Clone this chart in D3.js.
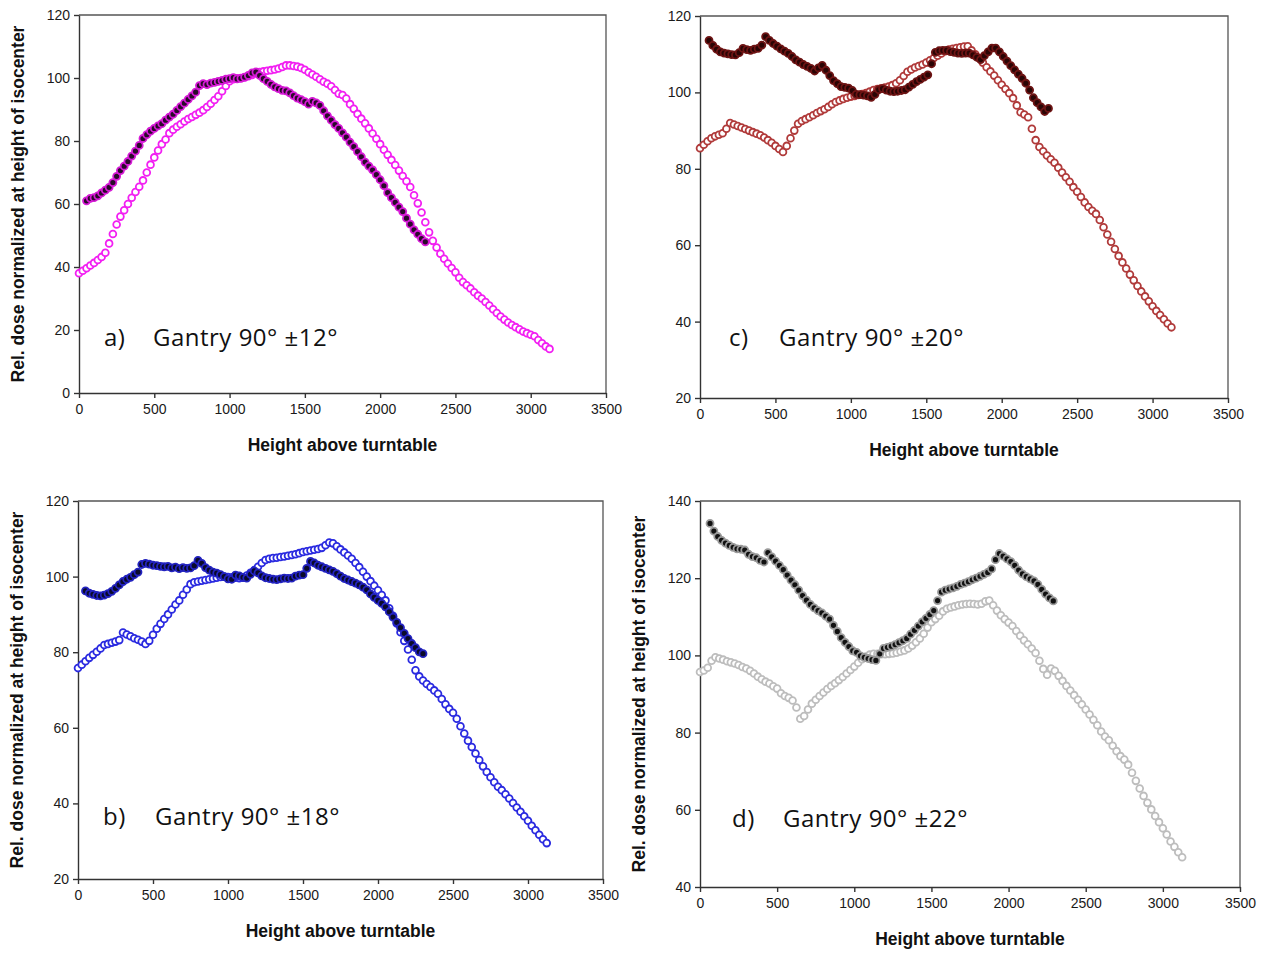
<!DOCTYPE html>
<html>
<head>
<meta charset="utf-8">
<script src="https://cdn.jsdelivr.net/npm/d3@7"></script>
<style>
  body { margin: 0; background: #fff; }
  .tick text { font-family: "Liberation Sans", Arial, sans-serif; font-size: 14px; fill: #1a1a1a; }
  .axis path, .axis line { stroke: #333; stroke-width: 1.4px; }
  .atitle { font-family: "Liberation Sans", Arial, sans-serif; font-weight: bold; font-size: 17.5px; fill: #111; }
  .note { font-family: "Open Sans", Lato, sans-serif; font-size: 24px; letter-spacing: 0.5px; fill: #111; }
</style>
</head>
<body>
<svg id="chart" width="1268" height="953"></svg>
<script>
// Data (heights in mm, dose in %)
const STEP = 25;
const xTicks = [0, 500, 1000, 1500, 2000, 2500, 3000, 3500];
const yTicksA = [0, 20, 40, 60, 80, 100, 120];
const yTicksB = [20, 40, 60, 80, 100, 120];
const yTicksC = [20, 40, 60, 80, 100, 120];
const yTicksD = [40, 60, 80, 100, 120, 140];
const panelLetters = ["a)", "b)", "c)", "d)"];
const panelTitles = ["Gantry 90° \u00b112°", "Gantry 90° \u00b118°", "Gantry 90° \u00b120°", "Gantry 90° \u00b122°"];
const openStart = [0, 0, 0, 0];
const measStart = [50, 50, 60, 65];

// open markers (calculated), first height 0, every 25 mm
const openA = [38,38.8,39.6,40.5,41.3,42.2,43.2,44.5,47.5,50.5,53.5,56,58,60,62,63.8,65.5,67.5,70,72.5,74.8,77,79,80.5,82.5,83.6,84.5,85.3,86.2,87,87.6,88.3,89,89.8,90.8,91.8,93,94.2,95.8,97.5,99,99.6,99.9,100,100.2,100.6,101,101.5,101.9,102.1,102.3,102.5,102.7,103,103.5,104,104,103.8,103.6,103.2,102.6,101.8,101.1,100.4,99.6,98.8,98.2,97.4,96.2,95,94.6,93.5,91.7,90.2,88.6,87.1,85.6,84,82.4,80.7,79,77.2,75.6,74,72.4,70.6,68.9,67.2,65.4,62.8,60.2,57.3,54.2,51,48.3,46.2,44.2,42.6,41.1,39.7,38.3,36.6,35.2,34.2,33.2,32,30.9,30,28.9,27.8,26.6,25.4,24.3,23.3,22.4,21.6,20.9,20.2,19.5,19,18.5,18,16.8,15.8,14.8,14];
const openB = [75.8,76.7,77.6,78.5,79.3,80.1,81,81.9,82.2,82.5,82.8,83.2,85.2,84.7,84.2,83.7,83.3,82.8,82.2,83,84.6,86.2,87.5,88.8,90,91.3,92.6,93.7,95.2,96.6,98,98.5,98.7,98.9,99.1,99.3,99.5,99.7,99.9,100,99.9,99.8,99.7,99.6,99.7,100.3,101,101.7,102.6,103.6,104.4,104.7,104.9,105,105.2,105.3,105.5,105.7,105.9,106.2,106.5,106.7,106.9,107.1,107.3,107.6,108.3,109,108.8,108,107.2,106.4,105.6,104.7,103.6,102.5,101.3,100,98.8,97.6,96.4,95.1,93.7,91.6,89.6,87.6,85.3,83,80.7,78,75.2,73.6,72.5,71.6,70.8,69.9,69,67.6,66.2,65,64,62.4,60.4,58.5,56.6,54.9,53.2,51.5,49.8,48.3,46.9,45.6,44.4,43.5,42.4,41.3,40.1,38.9,37.8,36.6,35.4,34.1,32.9,31.7,30.5,29.5];
const openC = [85.4,86.3,87.2,88,88.5,88.9,89.3,90.5,92,91.6,91.2,90.8,90.4,90,89.6,89.2,88.8,88.2,87.5,86.8,86,85.2,84.4,86,88,90,91.8,92.5,93,93.5,94,94.6,95.1,95.6,96.2,96.9,97.5,97.9,98.3,98.6,98.9,99.1,99.3,99.6,99.8,100.2,100.6,100.9,101.1,101.3,101.5,101.9,102.4,103.2,104.3,105.4,106,106.5,106.9,107.3,107.8,108.4,109,109.6,110.2,110.8,111.2,111.4,111.6,111.8,112,112.1,111,110,109,107.8,106.6,105.5,104.4,103.2,102,100.9,99.8,98.5,96.6,94.8,94.2,93.5,90.5,87.5,85.7,84.6,83.5,82.5,81.6,80.3,79,77.8,76.6,75.2,74,72.6,71.2,70,69,68.2,66.6,64.7,62.8,60.9,59,57.2,55.5,53.9,52.3,50.8,49.3,47.9,46.6,45.3,44,42.8,41.7,40.6,39.5,38.5];
const openD = [95.7,96.1,96.8,98.6,99.5,99.2,98.9,98.5,98.2,97.9,97.5,97,96.6,96,95.3,94.5,93.8,93.2,92.7,92,91.4,90.2,89.5,89,88.3,86.5,83.6,84.3,86,87.5,88.5,89.5,90.4,91.3,92.1,92.8,93.6,94.4,95.3,96.2,97.1,98.1,99,99.7,100.2,100.4,100.4,100.3,100.3,100.4,100.5,100.7,101,101.3,101.8,102.5,103.4,104.4,105.6,107.2,108.6,109.4,110.3,111.4,112.1,112.4,112.7,113,113.2,113.3,113.4,113.3,113.2,113.4,114,114.2,113,111.6,110.4,109.4,108.5,107.6,106.3,105.1,103.9,102.9,101.8,100.6,98.6,96.5,95,96.6,96,94.7,93.4,92.1,90.9,89.7,88.5,87.3,86,84.7,83.3,81.9,80.3,79,78,76.6,75.2,73.9,73,71.7,69.6,67.5,65.5,63.6,61.8,60.1,58.4,56.8,55.2,53.6,51.8,50.4,49,47.7];

// filled markers (measured), every 25 mm from measStart
const measA = [61,61.8,62,62.6,63.5,64.4,65.3,66.8,68.8,70.6,72,73.5,75.2,76.8,78.6,80.8,82,83.1,84,84.8,85.5,86.6,87.6,88.5,89.7,90.9,92,93.2,94.3,95.5,97.6,98.2,97.9,98.4,98.6,98.9,99.2,99.6,99.8,100.1,99.7,99.9,100.3,100.8,101.6,101.9,100.8,99.8,98.9,98,97.2,96.6,96.1,95.9,95.3,94.4,93.6,93.1,92.5,91.7,92.6,92.1,91.3,89.6,88,86.6,85.2,84,82.6,81.2,79.6,78.2,76.6,75,73.3,72,70.8,69.3,67.7,65.8,63.6,62,60.5,59,57.6,55.5,53.6,51.8,50.4,49,48];
const measB = [96.2,95.6,95.3,95,94.9,95.1,95.5,96.1,96.9,97.8,98.7,99.3,99.8,100.5,101.2,103.2,103.5,103.3,103,102.9,102.7,102.6,102.7,102.3,102.5,102.1,102.4,102.2,102.3,102.9,104.3,103.5,102.4,101.7,101.2,100.9,100.5,100,99.4,99.3,100.4,100.2,99.8,99.6,100.6,101.5,101,100.2,99.7,99.5,99.3,99.2,99.4,99.6,99.5,99.6,100.1,100.4,100.5,102.2,104,103.6,103,102.6,102.2,101.8,101.4,100.8,100.1,99.5,99.1,98.7,98.3,97.8,97.2,96.5,95.4,94.5,93.7,92.9,92,90.7,89.3,87.9,86.5,85,83.6,82.3,81.2,80.1,79.6];
const measC = [113.6,112.3,111.3,110.6,110.3,110.1,109.9,109.8,110.4,111.5,111.2,111,111.3,111.5,112.4,114.6,113.6,112.8,112.1,111.4,110.8,110.2,109.4,108.5,107.9,107.3,106.8,106.3,105.6,106.4,107.1,105.8,104.4,103.1,102.3,101.5,101.3,101.1,100.5,99.5,99.4,99.3,99.1,98.7,99.5,100.7,101,100.6,100.3,100.2,100.3,100.5,100.7,101.4,102.1,102.8,103.4,104,104.6,107.5,110.5,110.9,111,111,110.7,110.5,110.3,110.2,110.3,110.3,109.8,109.2,108.6,109.6,110.6,111.6,111.6,110.6,109.4,108.2,107,105.9,104.8,103.7,102.4,100.6,98.6,97.3,96.2,95,95.8];
const measD = [134.2,132.2,130.8,129.8,129.1,128.5,128,127.6,127.5,127.3,126.2,125.6,125.3,124.6,124.2,126.6,125.5,124.4,123.3,122.2,120.8,119.5,118.3,116.9,115.5,114.3,113.2,112.3,111.6,111,110.2,109.4,107.8,106.2,104.6,103.4,102.3,101.2,100.8,99.9,99.5,99.2,98.9,98.7,100.4,101.8,102.1,102.4,102.8,103.3,103.8,104.4,105.5,106.5,107.6,108.7,109.6,110.6,111.6,114.2,116.4,116.9,117.2,117.5,117.9,118.4,118.7,119.1,119.6,120,120.5,121,121.5,122.4,124.8,126.4,125.7,125,124.3,123.3,122.1,121.1,120.4,119.8,119.3,118.4,117.1,115.9,114.9,114.1];

const svg = d3.select("#chart");

// panel boxes in pixels and colours
const panels = [
  { open: openA, meas: measA, yTicks: yTicksA, box: { l: 79, r: 606, t: 15, b: 393 },
    openStroke: "#f21ff2", measStroke: "#d61ad6", measFill: "#2a0a2a", ytitle: true,
    note: { x: 104, y: 346, tx: 153 } },
  { open: openB, meas: measB, yTicks: yTicksB, box: { l: 78, r: 603, t: 501, b: 879 },
    openStroke: "#2a2ae0", measStroke: "#2323c0", measFill: "#0a0a2a", ytitle: true,
    note: { x: 103, y: 825, tx: 155 } },
  { open: openC, meas: measC, yTicks: yTicksC, box: { l: 700, r: 1228, t: 16, b: 398 },
    openStroke: "#b03a3a", measStroke: "#6e1414", measFill: "#2a0505", ytitle: false,
    note: { x: 729, y: 346, tx: 779 } },
  { open: openD, meas: measD, yTicks: yTicksD, box: { l: 700, r: 1240, t: 501, b: 887 },
    openStroke: "#bdbdbd", measStroke: "#9a9a9a", measFill: "#111", ytitle: true,
    note: { x: 732, y: 827, tx: 783 } }
];

panels.forEach((p, i) => {
  const b = p.box;
  const x = d3.scaleLinear().domain([0, 3500]).range([b.l, b.r]);
  const y = d3.scaleLinear().domain(d3.extent(p.yTicks)).range([b.b, b.t]);
  const g = svg.append("g");

  // frame (top + right)
  g.append("path")
    .attr("d", `M${b.l},${b.t}H${b.r}V${b.b}`)
    .attr("fill", "none").attr("stroke", "#555").attr("stroke-width", 1.3);

  g.append("g").attr("class", "axis")
    .attr("transform", `translate(0,${b.b})`)
    .call(d3.axisBottom(x).tickValues(xTicks).tickFormat(d3.format("d"))
      .tickSize(5).tickSizeOuter(0).tickPadding(6));
  g.append("g").attr("class", "axis")
    .attr("transform", `translate(${b.l},0)`)
    .call(d3.axisLeft(y).tickValues(p.yTicks).tickSize(5).tickSizeOuter(0).tickPadding(4));

  g.append("text").attr("class", "atitle")
    .attr("x", (b.l + b.r) / 2).attr("y", b.b + 58)
    .attr("text-anchor", "middle")
    .text("Height above turntable");

  if (p.ytitle) {
    g.append("text").attr("class", "atitle")
      .attr("transform", `translate(${b.l - 55},${(b.t + b.b) / 2}) rotate(-90)`)
      .attr("text-anchor", "middle")
      .text("Rel. dose normalized at height of isocenter");
  }

  // annotation
  g.append("text").attr("class", "note").attr("x", p.note.x).attr("y", p.note.y).text(panelLetters[i]);
  g.append("text").attr("class", "note").attr("x", p.note.tx).attr("y", p.note.y).text(panelTitles[i]);

  // calculated profile: open circles
  g.append("g").selectAll("circle")
    .data(p.open)
    .join("circle")
    .attr("cx", (d, k) => x(openStart[i] + k * STEP))
    .attr("cy", d => y(d))
    .attr("r", 3.4)
    .attr("fill", "#fff")
    .attr("stroke", p.openStroke)
    .attr("stroke-width", 1.8);

  // measured profile: filled dots
  g.append("g").selectAll("circle")
    .data(p.meas)
    .join("circle")
    .attr("cx", (d, k) => x(measStart[i] + k * STEP))
    .attr("cy", d => y(d))
    .attr("r", 3.5)
    .attr("fill", p.measFill)
    .attr("stroke", p.measStroke)
    .attr("stroke-width", 1.8);
});
</script>
</body>
</html>
